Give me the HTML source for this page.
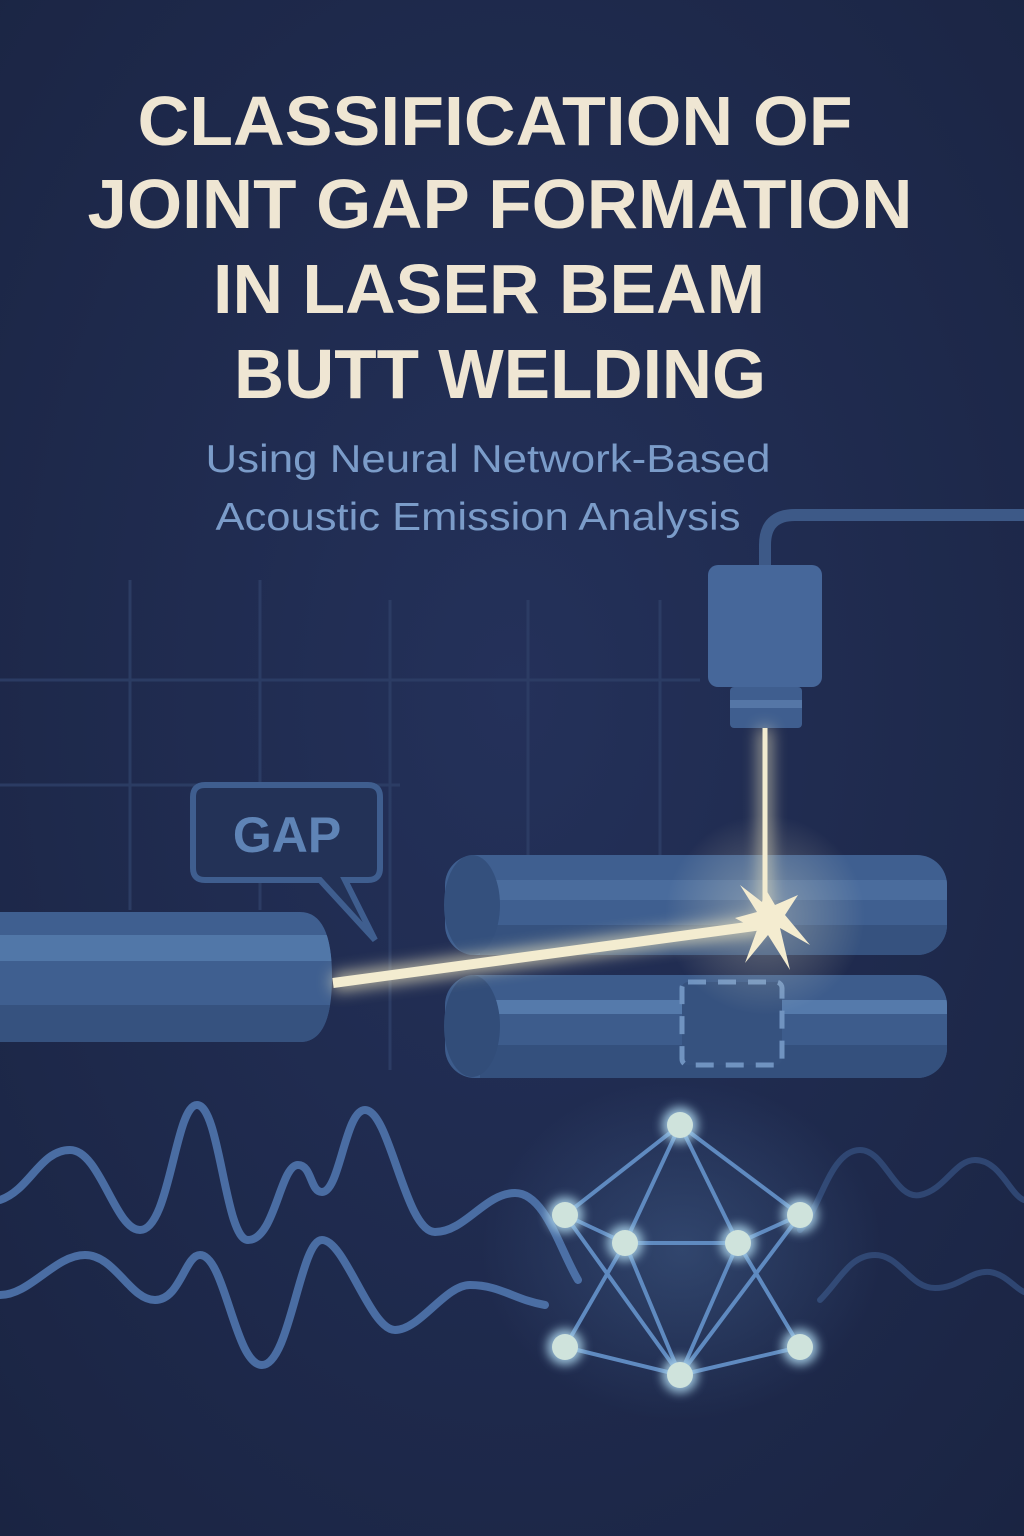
<!DOCTYPE html>
<html><head><meta charset="utf-8"><style>
html,body{margin:0;padding:0;background:#1d2846}
svg{display:block}
</style></head><body>
<svg width="1024" height="1536" viewBox="0 0 1024 1536" xmlns="http://www.w3.org/2000/svg">
<defs>
<radialGradient id="bg" cx="50%" cy="45%" r="75%">
<stop offset="0" stop-color="#24315a"/><stop offset="1" stop-color="#1a2442"/>
</radialGradient>
<filter id="glow" x="-50%" y="-50%" width="200%" height="200%"><feGaussianBlur stdDeviation="8"/></filter>
<filter id="glow2" x="-50%" y="-50%" width="200%" height="200%"><feGaussianBlur stdDeviation="5"/></filter>
<radialGradient id="spot" cx="50%" cy="50%" r="50%"><stop offset="0" stop-color="#f4eccb" stop-opacity="0.35"/><stop offset="1" stop-color="#f4eccb" stop-opacity="0"/></radialGradient>
<radialGradient id="nn" cx="50%" cy="50%" r="50%"><stop offset="0" stop-color="#5c86b8" stop-opacity="0.3"/><stop offset="1" stop-color="#5c86b8" stop-opacity="0"/></radialGradient>
<clipPath id="cU"><rect x="445" y="855" width="502" height="100" rx="30"/></clipPath>
<clipPath id="cL"><rect x="445" y="975" width="502" height="103" rx="30"/></clipPath>
<clipPath id="cP"><path d="M0 912 L300 912 Q332 912 332 977 Q332 1042 300 1042 L0 1042 Z"/></clipPath>
</defs>
<rect width="1024" height="1536" fill="url(#bg)"/>

<!-- title -->
<g font-family="Liberation Sans, sans-serif" font-weight="bold" fill="#efe6d3" text-anchor="middle" font-size="70">
<text x="495" y="145" textLength="715" lengthAdjust="spacingAndGlyphs">CLASSIFICATION OF</text>
<text x="500" y="228" textLength="825" lengthAdjust="spacingAndGlyphs">JOINT GAP FORMATION</text>
<text x="489" y="313" textLength="552" lengthAdjust="spacingAndGlyphs">IN LASER BEAM</text>
<text x="500" y="398" textLength="532" lengthAdjust="spacingAndGlyphs">BUTT WELDING</text>
</g>
<g font-family="Liberation Sans, sans-serif" fill="#7b9cc9" text-anchor="middle" font-size="39">
<text x="488" y="472" textLength="565" lengthAdjust="spacingAndGlyphs">Using Neural Network-Based</text>
<text x="478" y="530" textLength="525" lengthAdjust="spacingAndGlyphs">Acoustic Emission Analysis</text>
</g>

<!-- grid -->
<g stroke="#2d3e66" stroke-width="3" fill="none" opacity="0.9">
<line x1="130" y1="580" x2="130" y2="910"/>
<line x1="260" y1="580" x2="260" y2="910"/>
<line x1="390" y1="600" x2="390" y2="1070"/>
<line x1="528" y1="600" x2="528" y2="860"/>
<line x1="660" y1="600" x2="660" y2="860"/>
<line x1="0" y1="680" x2="700" y2="680"/>
<line x1="0" y1="785" x2="400" y2="785"/>
</g>

<!-- cable & camera -->
<path d="M765 570 L765 545 Q765 515 795 515 L1024 515" stroke="#3d5987" stroke-width="12" fill="none"/>
<rect x="708" y="565" width="114" height="122" rx="10" fill="#46679a"/>
<rect x="730" y="687" width="72" height="41" rx="4" fill="#3f5e8f"/>
<rect x="730" y="700" width="72" height="8" fill="#5576a6"/>

<!-- pipes right -->
<g>
<rect x="445" y="855" width="502" height="100" rx="30" fill="#3f5f90"/>
<g clip-path="url(#cU)">
<rect x="480" y="880" width="470" height="20" fill="#4a6c9d"/>
<rect x="480" y="925" width="470" height="30" fill="#36527f"/>
</g>
<ellipse cx="472" cy="905" rx="28" ry="50" fill="#34507d"/>
<rect x="445" y="975" width="502" height="103" rx="30" fill="#3d5c8c"/>
<g clip-path="url(#cL)">
<rect x="480" y="1000" width="470" height="14" fill="#557aab"/>
<rect x="480" y="1045" width="470" height="33" fill="#34507d"/>
</g>
<ellipse cx="472" cy="1026" rx="28" ry="51" fill="#324d79"/>
<rect x="682" y="982" width="100" height="83" rx="6" fill="#36527f" stroke="#7093c0" stroke-width="5" stroke-dasharray="18 12"/>
</g>

<!-- left pipe -->
<path d="M0 912 L300 912 Q332 912 332 977 Q332 1042 300 1042 L0 1042 Z" fill="#3f5f90"/>
<g clip-path="url(#cP)">
<rect x="0" y="935" width="340" height="26" fill="#5177a8"/>
<rect x="0" y="1005" width="340" height="37" fill="#36527f"/>
</g>

<!-- GAP bubble -->
<path d="M205 785 L368 785 Q380 785 380 797 L380 868 Q380 880 368 880 L345 880 L375 940 L320 880 L205 880 Q193 880 193 868 L193 797 Q193 785 205 785 Z" fill="#233257" stroke="#3f5e8f" stroke-width="6"/>
<text x="287" y="852" text-anchor="middle" font-family="Liberation Sans, sans-serif" font-weight="bold" font-size="50" fill="#5f84b6">GAP</text>

<!-- beams -->
<circle cx="765" cy="915" r="100" fill="url(#spot)"/>
<g filter="url(#glow)" opacity="0.8">
<line x1="765" y1="728" x2="765" y2="915" stroke="#f0e7c0" stroke-width="10"/>
<line x1="333" y1="983" x2="762" y2="925" stroke="#f0e7c0" stroke-width="16"/>
</g>
<line x1="765" y1="728" x2="765" y2="915" stroke="#f3ecd0" stroke-width="5"/>
<line x1="333" y1="983" x2="762" y2="925" stroke="#f3ecd0" stroke-width="10"/>
<polygon points="765,888 775,905 798,895 785,915 810,945 780,928 790,970 768,935 745,963 757,930 735,918 757,912 740,885 762,902" fill="#f4ecd0"/>

<!-- waves -->
<g fill="none" stroke-linecap="round">
<path d="M0 1200 C30 1190 40 1150 70 1150 C100 1150 115 1230 140 1230 C170 1230 175 1105 197 1105 C220 1105 225 1240 248 1240 C275 1240 280 1165 298 1165 C312 1165 310 1192 322 1192 C340 1192 345 1110 365 1110 C390 1110 405 1232 435 1232 C465 1232 485 1193 515 1193 C545 1193 560 1250 578 1280" stroke="#4a6da3" stroke-width="8"/>
<path d="M0 1295 C30 1295 55 1255 85 1255 C115 1255 130 1300 155 1300 C180 1300 185 1255 200 1255 C225 1255 235 1365 262 1365 C290 1365 300 1240 322 1240 C345 1240 370 1330 395 1330 C420 1330 445 1285 470 1285 C500 1285 515 1300 545 1305" stroke="#4a6da3" stroke-width="8"/>
<path d="M800 1230 C820 1210 830 1150 860 1150 C885 1150 895 1200 920 1195 C945 1190 955 1160 975 1160 C1000 1160 1010 1195 1024 1200" stroke="#2f4672" stroke-width="6"/>
<path d="M820 1300 C840 1280 850 1255 875 1255 C900 1255 910 1288 935 1288 C960 1288 970 1270 990 1272 C1005 1274 1015 1288 1024 1292" stroke="#2f4672" stroke-width="6"/>
</g>

<!-- neural net -->
<ellipse cx="682" cy="1250" rx="200" ry="170" fill="url(#nn)"/>
<g stroke="#5f8ac0" stroke-width="4">
<line x1="680" y1="1125" x2="565" y2="1215"/>
<line x1="680" y1="1125" x2="800" y2="1215"/>
<line x1="680" y1="1125" x2="625" y2="1243"/>
<line x1="680" y1="1125" x2="738" y2="1243"/>
<line x1="565" y1="1215" x2="625" y2="1243"/>
<line x1="800" y1="1215" x2="738" y2="1243"/>
<line x1="625" y1="1243" x2="738" y2="1243"/>
<line x1="565" y1="1215" x2="680" y2="1375"/>
<line x1="800" y1="1215" x2="680" y2="1375"/>
<line x1="625" y1="1243" x2="565" y2="1347"/>
<line x1="738" y1="1243" x2="800" y2="1347"/>
<line x1="625" y1="1243" x2="680" y2="1375"/>
<line x1="738" y1="1243" x2="680" y2="1375"/>
<line x1="565" y1="1347" x2="680" y2="1375"/>
<line x1="800" y1="1347" x2="680" y2="1375"/>
</g>
<g fill="#a8d0e8" filter="url(#glow2)" opacity="0.9">
<circle cx="680" cy="1125" r="18"/><circle cx="565" cy="1215" r="18"/><circle cx="800" cy="1215" r="18"/>
<circle cx="625" cy="1243" r="18"/><circle cx="738" cy="1243" r="18"/><circle cx="565" cy="1347" r="18"/>
<circle cx="800" cy="1347" r="18"/><circle cx="680" cy="1375" r="18"/>
</g>
<g fill="#cfe3dc">
<circle cx="680" cy="1125" r="13"/><circle cx="565" cy="1215" r="13"/><circle cx="800" cy="1215" r="13"/>
<circle cx="625" cy="1243" r="13"/><circle cx="738" cy="1243" r="13"/><circle cx="565" cy="1347" r="13"/>
<circle cx="800" cy="1347" r="13"/><circle cx="680" cy="1375" r="13"/>
</g>
</svg>
</body></html>
